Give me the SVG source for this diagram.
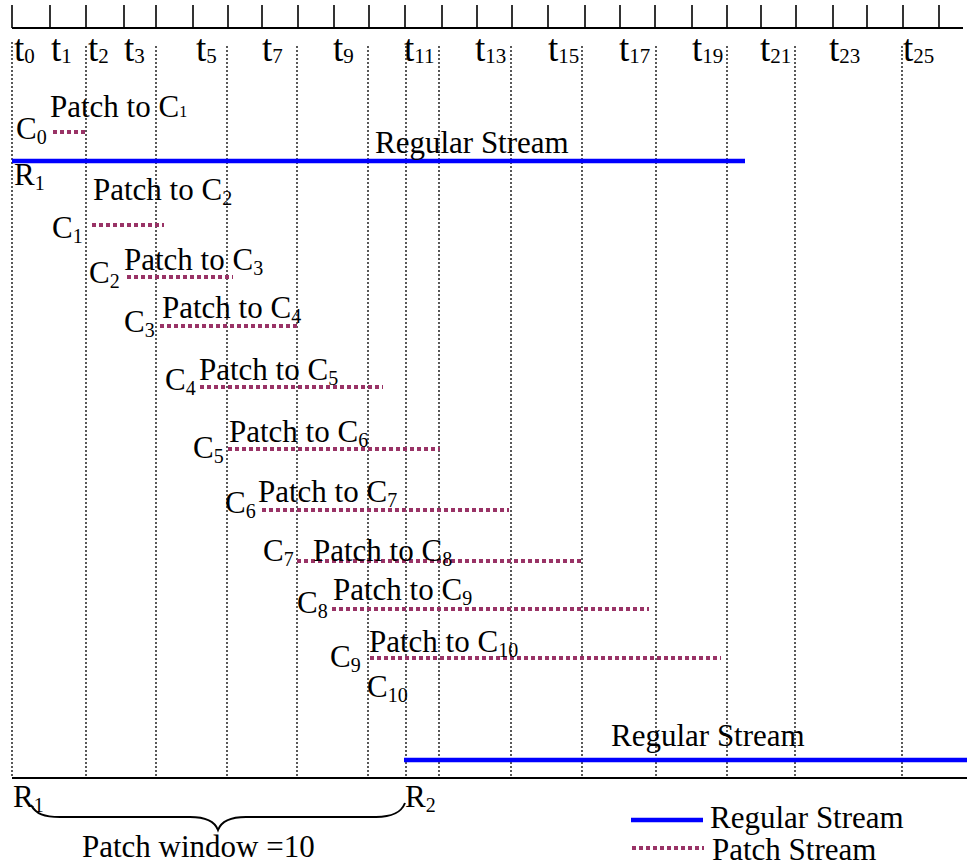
<svg xmlns="http://www.w3.org/2000/svg" width="967" height="867" viewBox="0 0 967 867">
  <style>
    text { font-family: "Liberation Serif", "Times New Roman", serif; fill: #000; }
    .lbl { font-size: 31px; }
    .tl { font-size: 37px; }
    .s { font-size: 20px; }
    .ts { font-size: 21px; }
    .axis { stroke: #000; stroke-width: 2; fill: none; }
    .tick { stroke: #000; stroke-width: 1.6; }
    .grid { stroke: #000; stroke-width: 1.3; stroke-dasharray: 2 2; }
    .regular { stroke: #0000ff; stroke-width: 4.5; fill: none; }
    .patch { stroke: #993366; stroke-width: 4; stroke-dasharray: 4 3; fill: none; }
  </style>

  <rect width="967" height="867" fill="#fff"/>

  <!-- time axis with unit ticks -->
  <g id="ruler">
    <line class="axis" x1="12" y1="28" x2="963" y2="28"/>
    <g class="tick">
      <line x1="12" y1="5" x2="12" y2="28"/>
      <line x1="50" y1="5" x2="50" y2="28"/>
      <line x1="86" y1="5" x2="86" y2="28"/>
      <line x1="124" y1="5" x2="124" y2="28"/>
      <line x1="156" y1="5" x2="156" y2="28"/>
      <line x1="193" y1="5" x2="193" y2="28"/>
      <line x1="228" y1="5" x2="228" y2="28"/>
      <line x1="262" y1="5" x2="262" y2="28"/>
      <line x1="298" y1="5" x2="298" y2="28"/>
      <line x1="334" y1="5" x2="334" y2="28"/>
      <line x1="369" y1="5" x2="369" y2="28"/>
      <line x1="405" y1="5" x2="405" y2="28"/>
      <line x1="442" y1="5" x2="442" y2="28"/>
      <line x1="477" y1="5" x2="477" y2="28"/>
      <line x1="512" y1="5" x2="512" y2="28"/>
      <line x1="548" y1="5" x2="548" y2="28"/>
      <line x1="585" y1="5" x2="585" y2="28"/>
      <line x1="620" y1="5" x2="620" y2="28"/>
      <line x1="655" y1="5" x2="655" y2="28"/>
      <line x1="692" y1="5" x2="692" y2="28"/>
      <line x1="727" y1="5" x2="727" y2="28"/>
      <line x1="761" y1="5" x2="761" y2="28"/>
      <line x1="796" y1="5" x2="796" y2="28"/>
      <line x1="833" y1="5" x2="833" y2="28"/>
      <line x1="867" y1="5" x2="867" y2="28"/>
      <line x1="903" y1="5" x2="903" y2="28"/>
      <line x1="939" y1="5" x2="939" y2="28"/>
    </g>
    <g class="tl">
      <text x="14" y="61">t<tspan class="ts" dy="2">0</tspan></text>
      <text x="51" y="61">t<tspan class="ts" dy="2">1</tspan></text>
      <text x="88" y="61">t<tspan class="ts" dy="2">2</tspan></text>
      <text x="124" y="61">t<tspan class="ts" dy="2">3</tspan></text>
      <text x="196" y="61">t<tspan class="ts" dy="2">5</tspan></text>
      <text x="262" y="61">t<tspan class="ts" dy="2">7</tspan></text>
      <text x="333" y="61">t<tspan class="ts" dy="2">9</tspan></text>
      <text x="404" y="61">t<tspan class="ts" dy="2">11</tspan></text>
      <text x="475" y="61">t<tspan class="ts" dy="2">13</tspan></text>
      <text x="548" y="61">t<tspan class="ts" dy="2">15</tspan></text>
      <text x="619" y="61">t<tspan class="ts" dy="2">17</tspan></text>
      <text x="692" y="61">t<tspan class="ts" dy="2">19</tspan></text>
      <text x="760" y="61">t<tspan class="ts" dy="2">21</tspan></text>
      <text x="829" y="61">t<tspan class="ts" dy="2">23</tspan></text>
      <text x="903" y="61">t<tspan class="ts" dy="2">25</tspan></text>
    </g>
  </g>

  <!-- dotted guide lines -->
  <g id="gridlines" class="grid">
    <line x1="12" y1="42" x2="12" y2="777"/>
    <line x1="86" y1="46" x2="86" y2="777"/>
    <line x1="156" y1="46" x2="156" y2="777"/>
    <line x1="227" y1="46" x2="227" y2="777"/>
    <line x1="297" y1="46" x2="297" y2="777"/>
    <line x1="368" y1="46" x2="368" y2="777"/>
    <line x1="406" y1="46" x2="406" y2="777"/>
    <line x1="439" y1="46" x2="439" y2="777"/>
    <line x1="511" y1="46" x2="511" y2="777"/>
    <line x1="582" y1="46" x2="582" y2="777"/>
    <line x1="656" y1="46" x2="656" y2="777"/>
    <line x1="727" y1="46" x2="727" y2="777"/>
    <line x1="795" y1="46" x2="795" y2="777"/>
    <line x1="902" y1="46" x2="902" y2="777"/>
  </g>

  <!-- base line -->
  <line id="baseline" class="axis" x1="12" y1="778" x2="967" y2="778"/>

  <!-- streams (connectors) -->
  <g id="connectors">
    <line class="regular" x1="12" y1="161" x2="745" y2="161"/>
    <line class="regular" x1="404" y1="760" x2="967" y2="760"/>
    <line class="patch" x1="53" y1="132" x2="88" y2="132"/>
    <line class="patch" x1="92" y1="225" x2="164" y2="225"/>
    <line class="patch" x1="127" y1="277" x2="233" y2="277"/>
    <line class="patch" x1="160" y1="326" x2="299" y2="326"/>
    <line class="patch" x1="200" y1="387" x2="383" y2="387"/>
    <line class="patch" x1="228" y1="449" x2="440" y2="449"/>
    <line class="patch" x1="262" y1="510" x2="509" y2="510"/>
    <line class="patch" x1="297" y1="561" x2="581" y2="561"/>
    <line class="patch" x1="332" y1="609" x2="649" y2="609"/>
    <line class="patch" x1="370" y1="658" x2="721" y2="658"/>
  </g>

  <!-- regular stream labels -->
  <g id="stream-R1" class="lbl">
    <text x="375" y="153">Regular Stream</text>
    <text x="14" y="185">R<tspan class="s" dy="5">1</tspan></text>
  </g>
  <g id="stream-R2" class="lbl">
    <text x="611" y="746">Regular Stream</text>
  </g>

  <!-- clients and their patch labels -->
  <g id="client-C0" class="lbl">
    <text x="16" y="139">C<tspan class="s" dy="5">0</tspan></text>
    <text x="50" y="117">Patch to C<tspan style="font-size:16px">1</tspan></text>
  </g>
  <g id="client-C1" class="lbl">
    <text x="52" y="238">C<tspan class="s" dy="5">1</tspan></text>
    <text x="93" y="200">Patch to C<tspan class="s" dy="5">2</tspan></text>
  </g>
  <g id="client-C2" class="lbl">
    <text x="89" y="283">C<tspan class="s" dy="5">2</tspan></text>
    <text x="124" y="270">Patch to C<tspan class="s" dy="5">3</tspan></text>
  </g>
  <g id="client-C3" class="lbl">
    <text x="124" y="332">C<tspan class="s" dy="5">3</tspan></text>
    <text x="162" y="318">Patch to C<tspan class="s" dy="5">4</tspan></text>
  </g>
  <g id="client-C4" class="lbl">
    <text x="165" y="390">C<tspan class="s" dy="5">4</tspan></text>
    <text x="199" y="380">Patch to C<tspan class="s" dy="5">5</tspan></text>
  </g>
  <g id="client-C5" class="lbl">
    <text x="193" y="458">C<tspan class="s" dy="5">5</tspan></text>
    <text x="229" y="442">Patch to C<tspan class="s" dy="5">6</tspan></text>
  </g>
  <g id="client-C6" class="lbl">
    <text x="225" y="513">C<tspan class="s" dy="5">6</tspan></text>
    <text x="258" y="502">Patch to C<tspan class="s" dy="5">7</tspan></text>
  </g>
  <g id="client-C7" class="lbl">
    <text x="263" y="561">C<tspan class="s" dy="5">7</tspan></text>
    <text x="313" y="561">Patch to C<tspan class="s" dy="5">8</tspan></text>
  </g>
  <g id="client-C8" class="lbl">
    <text x="297" y="613">C<tspan class="s" dy="5">8</tspan></text>
    <text x="333" y="600">Patch to C<tspan class="s" dy="5">9</tspan></text>
  </g>
  <g id="client-C9" class="lbl">
    <text x="330" y="667">C<tspan class="s" dy="5">9</tspan></text>
    <text x="369" y="652">Patch to C<tspan class="s" dy="5">10</tspan></text>
  </g>
  <g id="client-C10" class="lbl">
    <text x="367" y="697">C<tspan class="s" dy="5">10</tspan></text>
  </g>

  <!-- patch window brace -->
  <g id="patch-window">
    <text class="lbl" x="13" y="807">R<tspan class="s" dy="5">1</tspan></text>
    <text class="lbl" x="405" y="807">R<tspan class="s" dy="5">2</tspan></text>
    <path d="M31,805 C36,814 44,817 60,817 L190,817 C206,817 215,822 218,830 C221,822 230,817 246,817 L376,817 C392,817 401,813 405,803" stroke="#000" stroke-width="2" fill="none"/>
    <text class="lbl" x="82" y="857">Patch window =10</text>
  </g>

  <!-- legend -->
  <g id="legend">
    <line class="regular" x1="631" y1="820" x2="703" y2="820"/>
    <line class="patch" x1="632" y1="848" x2="704" y2="848"/>
    <text class="lbl" x="710" y="828">Regular Stream</text>
    <text class="lbl" x="712" y="860">Patch Stream</text>
  </g>
</svg>
